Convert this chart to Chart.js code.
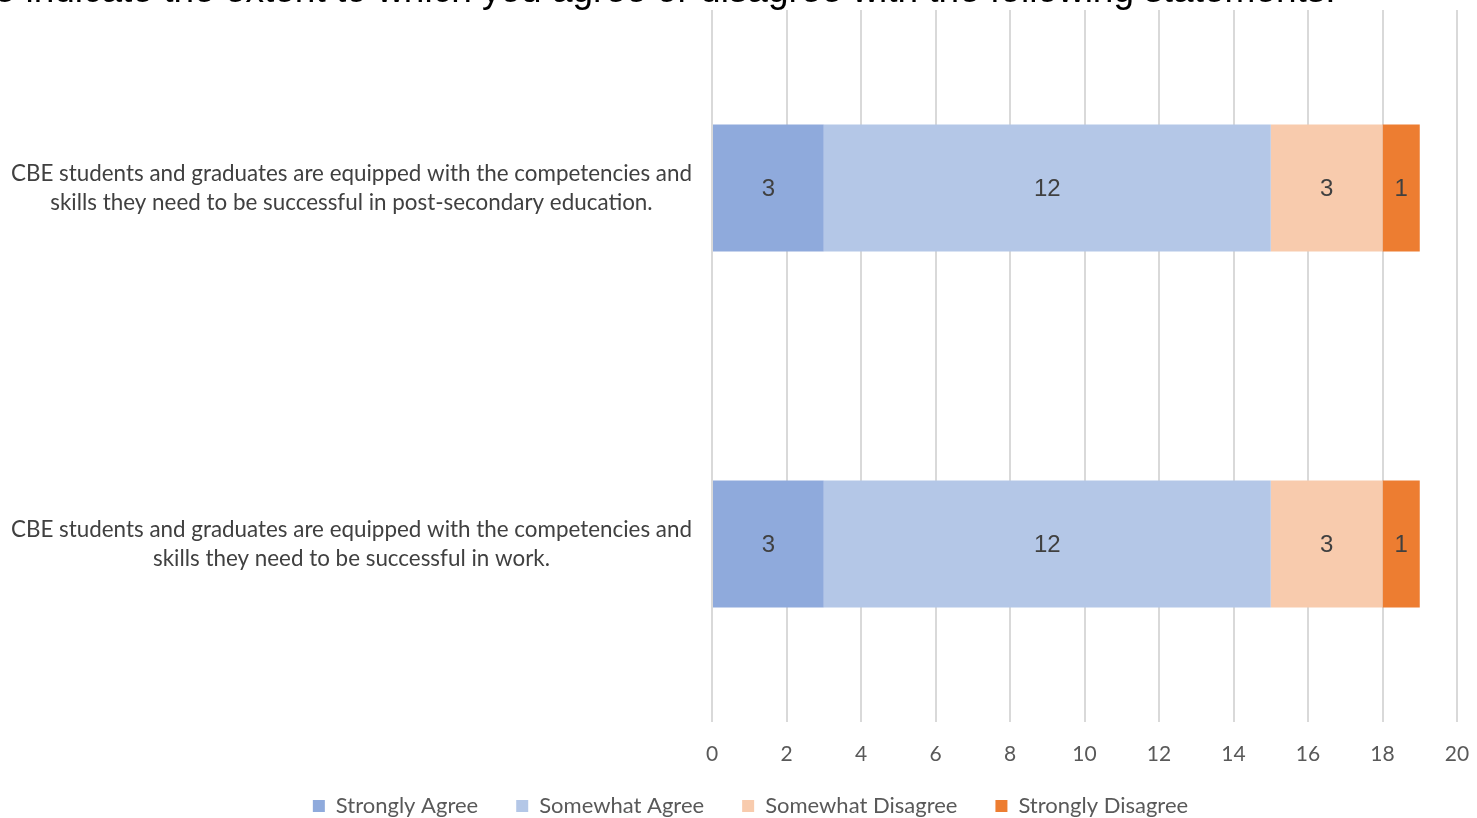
<!DOCTYPE html>
<html>
<head>
<meta charset="utf-8">
<script src="https://cdn.jsdelivr.net/npm/chart.js@4"></script>
<style>
    html, body { margin: 0; padding: 0; background: #fff; overflow: hidden; }
    #wrap { position: absolute; left: 0; top: 0; width: 1477px; height: 818px; }
    #title {
        position: absolute; left: -98px; top: -31px; white-space: nowrap;
        font-family: "Liberation Sans", Arial, sans-serif; font-size: 37px; color: #000;
        z-index: 2;
    }
</style>
</head>
<body>
<div id="wrap">
    <div id="title">Please indicate the extent to which you agree or disagree with the following statements.</div>
    <canvas id="chart" width="1477" height="818"></canvas>
</div>
<script>
// Statements (two lines each, like the original)
const statements = [
    ['CBE students and graduates are equipped with the competencies and', 'skills they need to be successful in post-secondary education.'],
    ['CBE students and graduates are equipped with the competencies and', 'skills they need to be successful in work.']
];
const seriesNames = ['Strongly Agree', 'Somewhat Agree', 'Somewhat Disagree', 'Strongly Disagree'];
const stronglyAgree = [3, 3];
const somewhatAgree = [12, 12];
const somewhatDisagree = [3, 3];
const stronglyDisagree = [1, 1];
const seriesColors = ['#8FAADC', '#B4C7E7', '#F8CBAD', '#ED7D31'];

const labelFont = 'Lato, "Open Sans", sans-serif';

// draws the value in the middle of each bar segment
const barValues = {
    id: 'barValues',
    afterDatasetsDraw(chart) {
        const ctx = chart.ctx;
        ctx.save();
        ctx.font = '24px "Liberation Sans", Arial, sans-serif';
        ctx.fillStyle = '#404040';
        ctx.textAlign = 'center';
        ctx.textBaseline = 'middle';
        chart.data.datasets.forEach((ds, i) => {
            chart.getDatasetMeta(i).data.forEach((bar, j) => {
                const p = bar.getProps(['x', 'y', 'base'], true);
                ctx.fillText(ds.data[j], (p.x + p.base) / 2, p.y + 1);
            });
        });
        ctx.restore();
    }
};

// legend sits a bit higher and right of where Chart.js puts it
const legendNudge = {
    id: 'legendNudge',
    afterLayout(chart) {
        const l = chart.legend;
        l.left += 22; l.right += 22;
        l.top -= 12; l.bottom -= 12;
    }
};

const datasets = [stronglyAgree, somewhatAgree, somewhatDisagree, stronglyDisagree].map((vals, i) => ({
    label: seriesNames[i],
    data: vals,
    backgroundColor: seriesColors[i],
    borderWidth: 0,
    barPercentage: 0.357,
    categoryPercentage: 1
}));

new Chart(document.getElementById('chart'), {
    type: 'bar',
    data: { labels: statements, datasets: datasets },
    plugins: [barValues, legendNudge],
    options: {
        indexAxis: 'y',
        responsive: false,
        animation: false,
        layout: { padding: { top: 10, right: 20, left: 0, bottom: -21 } },
        scales: {
            x: {
                stacked: true,
                min: 0,
                max: 20,
                afterFit(scale) {
                    scale.paddingLeft = 0;
                    scale.paddingRight = 0;
                    scale.height = 47;
                },
                ticks: { stepSize: 2, color: '#595959', font: { family: labelFont, size: 21 }, padding: 20 },
                grid: { color: '#D9D9D9', lineWidth: 2, drawTicks: false },
                border: { display: false }
            },
            y: {
                stacked: true,
                afterFit(scale) {
                    scale.width = 712;
                    scale.paddingTop = 0;
                    scale.paddingBottom = 0;
                },
                ticks: { crossAlign: 'center', padding: 20, color: '#404040', font: { family: labelFont, size: 22.4, lineHeight: 1.3 } },
                grid: { display: false, drawTicks: false },
                border: { display: false }
            }
        },
        plugins: {
            legend: {
                position: 'bottom',
                labels: { boxWidth: 12, boxHeight: 12, padding: 38, color: '#595959', font: { family: labelFont, size: 22 } }
            },
            tooltip: { enabled: false }
        }
    }
});
</script>
</body>
</html>
